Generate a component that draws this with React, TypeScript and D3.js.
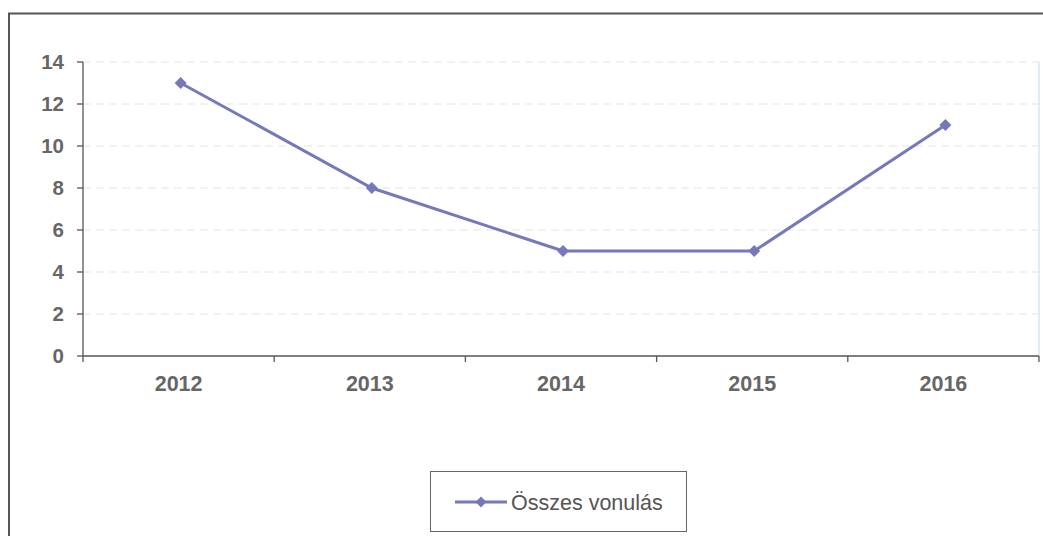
import React from "react";
import * as d3 from "d3";

const categories = ["2012", "2013", "2014", "2015", "2016"];
const values = [13, 8, 5, 5, 11];
const yTicks = [0, 2, 4, 6, 8, 10, 12, 14];
const seriesName = "Összes vonulás";

const W = 1043;
const H = 536;
const plot = { left: 83, right: 1039, top: 62, bottom: 356 };
const lineColor = "#7479b8";
const textColor = "#666666";
const font = "Arial, 'Liberation Sans', sans-serif";

function diamond(cx: number, cy: number, r: number) {
  return `M${cx},${cy - r}L${cx + r},${cy}L${cx},${cy + r}L${cx - r},${cy}Z`;
}

export default function App() {
  const x = d3.scaleBand<string>().domain(categories).range([plot.left, plot.right]).padding(0);
  // series points sit slightly right of band centres in the scan
  const xp = d3
    .scalePoint<string>()
    .domain(categories)
    .range([plot.left + 2 + x.bandwidth() / 2, plot.right + 2 - x.bandwidth() / 2]);
  const y = d3.scaleLinear().domain([0, 14]).range([plot.bottom, plot.top]);
  const line = d3
    .line<number>()
    .x((_, i) => xp(categories[i]) as number)
    .y((d) => y(d));
  const boundaries = [...categories.map((c) => x(c) as number), plot.right];

  return (
    <svg
      width={W}
      height={H}
      style={{ position: "absolute", left: 0, top: 0, background: "#fff" }}
    >
      <rect x={0} y={0} width={W} height={H} fill="#fff" />
      {/* outer frame */}
      <line x1={9} y1={13} x2={9} y2={H} stroke="#555" strokeWidth={2} />
      <line x1={8} y1={13.5} x2={W} y2={13.5} stroke="#555" strokeWidth={2} />
      {/* gridlines */}
      {yTicks.slice(1).map((t) => (
        <line
          key={"g" + t}
          x1={plot.left}
          x2={plot.right}
          y1={y(t)}
          y2={y(t)}
          stroke="#e4e4e4"
          strokeWidth={1}
          strokeDasharray="8,5"
        />
      ))}
      {/* right plot edge */}
      <line x1={plot.right} x2={plot.right} y1={plot.top} y2={plot.bottom} stroke="#d6e6f5" strokeWidth={1.5} />
      {/* y axis */}
      <line x1={plot.left} x2={plot.left} y1={plot.top} y2={plot.bottom} stroke="#555" strokeWidth={1.3} />
      {yTicks.map((t) => (
        <g key={"y" + t}>
          <line x1={plot.left - 6} x2={plot.left} y1={y(t)} y2={y(t)} stroke="#555" strokeWidth={1.3} />
          <text
            x={64}
            y={y(t)}
            dy="0.36em"
            textAnchor="end"
            fontFamily={font}
            fontWeight="bold"
            fontSize={20.5}
            fill={textColor}
          >
            {t}
          </text>
        </g>
      ))}
      {/* x axis */}
      <line x1={plot.left} x2={plot.right} y1={plot.bottom} y2={plot.bottom} stroke="#555" strokeWidth={1.3} />
      {boundaries.map((b, i) => (
        <line key={"xt" + i} x1={b} x2={b} y1={plot.bottom} y2={plot.bottom + 6} stroke="#555" strokeWidth={1.3} />
      ))}
      {categories.map((c) => (
        <text
          key={"x" + c}
          x={(x(c) as number) + x.bandwidth() / 2}
          y={391}
          textAnchor="middle"
          fontFamily={font}
          fontWeight="bold"
          fontSize={21.5}
          fill={textColor}
        >
          {c}
        </text>
      ))}
      {/* series */}
      <path d={line(values) || ""} fill="none" stroke={lineColor} strokeWidth={3} />
      {values.map((v, i) => (
        <path
          key={"m" + i}
          d={diamond(xp(categories[i]) as number, y(v), 6)}
          fill={lineColor}
        />
      ))}
      {/* legend */}
      <rect x={430.5} y={471.5} width={256} height={60} fill="#fff" stroke="#666" strokeWidth={1} />
      <line x1={455} x2={507} y1={502} y2={502} stroke={lineColor} strokeWidth={3} />
      <path d={diamond(481, 502, 5.5)} fill={lineColor} />
      <text x={511} y={510} fontFamily={font} fontSize={21.5} fill="#555">
        {seriesName}
      </text>
    </svg>
  );
}
